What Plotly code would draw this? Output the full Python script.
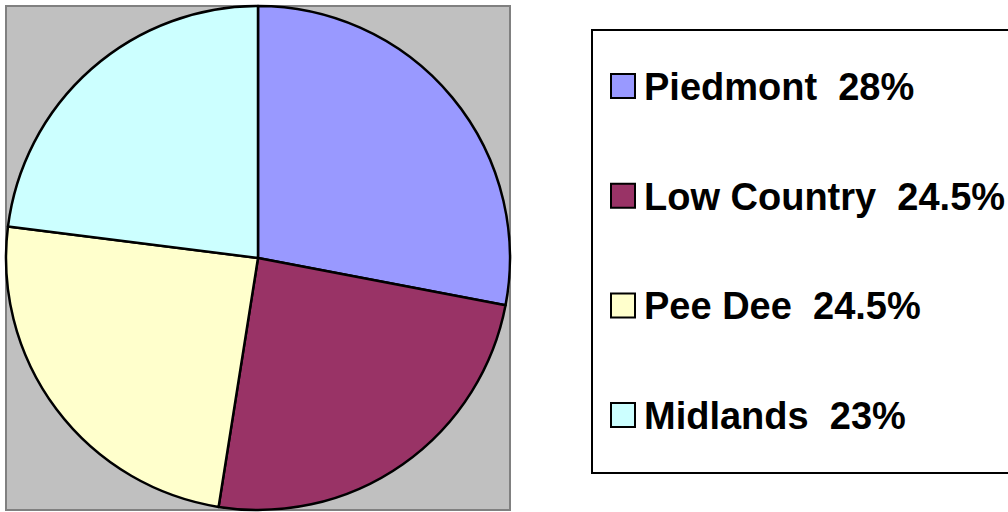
import plotly.graph_objects as go

labels = ["Piedmont", "Low Country", "Pee Dee", "Midlands"]
values = [28, 24.5, 24.5, 23]
colors = ["#9999FF", "#993366", "#FFFFCC", "#CCFFFF"]

W, H = 1008, 512


def px(x):
    return x / W


def py(y):
    return 1 - y / H


fig = go.Figure()
fig.add_trace(go.Pie(
    labels=labels,
    values=values,
    sort=False,
    direction="clockwise",
    rotation=0,
    marker=dict(colors=colors, line=dict(color="#000000", width=2.5)),
    textinfo="none",
    hoverinfo="label+percent",
    showlegend=False,
    domain=dict(x=[px(6), px(510)], y=[py(510), py(6)]),
))

shapes = [
    # plot area background
    dict(type="rect", xref="paper", yref="paper", layer="below",
         x0=px(6), x1=px(510), y0=py(510), y1=py(6),
         fillcolor="#C0C0C0", line=dict(color="#808080", width=2)),
    # legend box (extends past the right edge)
    dict(type="rect", xref="paper", yref="paper", layer="below",
         x0=px(592), x1=px(1020), y0=py(473), y1=py(30),
         fillcolor="#FFFFFF", line=dict(color="#000000", width=2)),
]
annotations = []
y_first, step = 86, 109.7
for i, (lab, val, col) in enumerate(zip(labels, values, colors)):
    yc = y_first + i * step
    shapes.append(dict(type="rect", xref="paper", yref="paper",
                       x0=px(611), x1=px(635), y0=py(yc + 12), y1=py(yc - 12),
                       fillcolor=col, line=dict(color="#000000", width=2)))
    annotations.append(dict(xref="paper", yref="paper", x=px(642), y=py(yc + 1),
                            xanchor="left", yanchor="middle", showarrow=False,
                            text=f"<b>{lab}\u00a0\u00a0{val:g}%</b>",
                            font=dict(family="Liberation Sans, Arial", size=38, color="#000000")))

fig.update_layout(
    width=W, height=H,
    margin=dict(l=0, r=0, t=0, b=0),
    paper_bgcolor="#FFFFFF",
    plot_bgcolor="#FFFFFF",
    shapes=shapes,
    annotations=annotations,
    showlegend=False,
)

fig.write_html(
    "out.html",
    config={"displayModeBar": False},
    post_script="document.body.style.margin='0';document.body.style.overflow='hidden';",
)
